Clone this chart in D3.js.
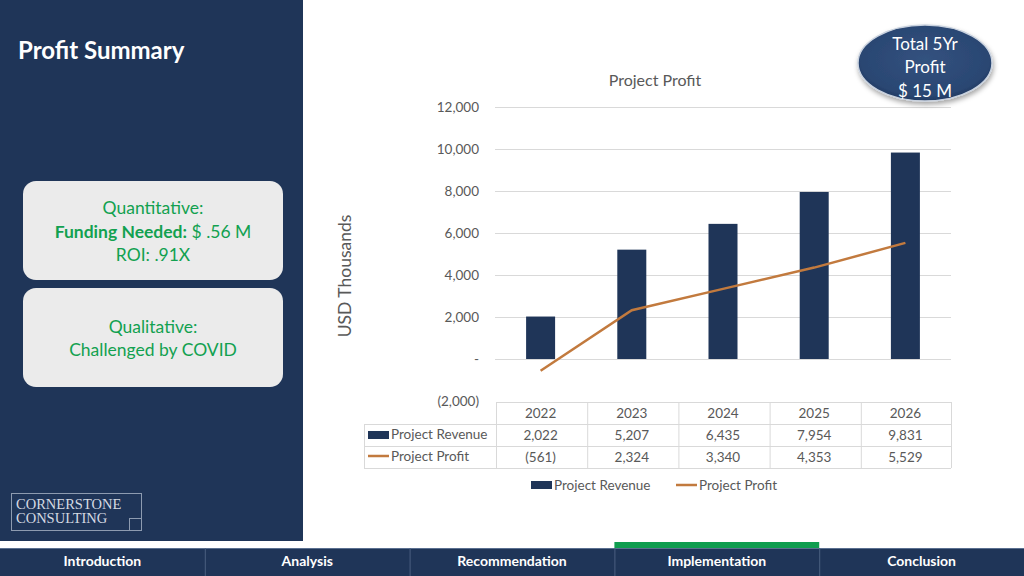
<!DOCTYPE html>
<html><head><meta charset="utf-8">
<script src="https://cdn.jsdelivr.net/npm/d3@7"></script>
<style>html,body{margin:0;padding:0;background:#fff;overflow:hidden}</style>
</head><body>
<svg id="c" width="1024" height="576"></svg>
<script>
const years = ["2022","2023","2024","2025","2026"];
const revenue = [2022, 5207, 6435, 7954, 9831];
const profit = [-561, 2324, 3340, 4353, 5529];
const yTicks = [-2000, 0, 2000, 4000, 6000, 8000, 10000, 12000];
const seriesNames = ["Project Revenue", "Project Profit"];
const navItems = ["Introduction", "Analysis", "Recommendation", "Implementation", "Conclusion"];
const activeNav = "Implementation";

const NAVY = "#1f3558", ORANGE = "#c27a3e", GREEN = "#12a150", GRAY = "#595959";
const FONT = "Lato, 'Open Sans', sans-serif";
const svg = d3.select("#c");

// left panel
svg.append("rect").attr("x",0).attr("y",0).attr("width",303).attr("height",541).attr("fill",NAVY);
svg.append("text").attr("x",18).attr("y",59).text("Profit Summary")
  .attr("fill","#fff").attr("font-family",FONT).attr("font-weight","bold").attr("font-size",24);

// boxes
const boxes = [
  {y:181, lines:[[{t:"Quantitative:"}],[{t:"Funding Needed:",b:true},{t:" $ .56 M"}],[{t:"ROI: .91X"}]], ys:[214,238,261]},
  {y:288, lines:[[{t:"Qualitative:"}],[{t:"Challenged by COVID"}]], ys:[333,356]}
];
boxes.forEach(b=>{
  svg.append("rect").attr("x",23).attr("y",b.y).attr("width",260).attr("height",99).attr("rx",13)
    .attr("fill","#ebebeb");
  b.lines.forEach((ln,i)=>{
    const t = svg.append("text").attr("x",153).attr("y",b.ys[i]).attr("text-anchor","middle")
      .attr("fill",GREEN).attr("font-family",FONT).attr("font-size",17.5);
    ln.forEach(s=>t.append("tspan").text(s.t).attr("font-weight",s.b?"bold":"normal"));
  });
});

// logo
svg.append("rect").attr("x",11.5).attr("y",493.5).attr("width",130).attr("height",37)
  .attr("fill","none").attr("stroke","#8d9bb0").attr("stroke-width",1);
svg.append("rect").attr("x",129.5).attr("y",518.5).attr("width",12).attr("height",12)
  .attr("fill","none").attr("stroke","#8d9bb0").attr("stroke-width",1);
["CORNERSTONE","CONSULTING"].forEach((t,i)=>svg.append("text").attr("x",16).attr("y",509+i*14)
  .text(t).attr("fill","#d5dae3").attr("font-family","'Liberation Serif', serif").attr("font-size",14.5));

// nav bar
const navX = d3.scaleBand().domain(navItems).range([0,1024]);
svg.append("rect").attr("x",0).attr("y",548).attr("width",1024).attr("height",28).attr("fill",NAVY);
svg.append("line").attr("x1",0).attr("x2",1024).attr("y1",548.5).attr("y2",548.5).attr("stroke","#5a6f90");
navItems.forEach((n,i)=>{
  if(i>0) svg.append("line").attr("x1",navX(n)+0.5).attr("x2",navX(n)+0.5).attr("y1",548).attr("y2",576)
    .attr("stroke","#4a5f80");
  if(n===activeNav) svg.append("rect").attr("x",navX(n)).attr("y",542).attr("width",navX.bandwidth()).attr("height",6).attr("fill","#0f9d4f");
  svg.append("text").attr("x",navX(n)+navX.bandwidth()/2).attr("y",566).attr("text-anchor","middle")
    .text(n).attr("fill","#fff").attr("font-family",FONT).attr("font-weight","bold").attr("font-size",14);
});

// chart
const x = d3.scaleBand().domain(years).range([495,951]);
const y = d3.scaleLinear().domain([-2000,12000]).range([401,107]);
const fmt = v => v===0 ? "-" : v<0 ? "("+d3.format(",")(-v)+")" : d3.format(",")(v);

const yAxis = svg.append("g").attr("transform","translate(495,0)")
  .call(d3.axisLeft(y).tickValues(yTicks).tickFormat(fmt).tickSize(0).tickPadding(16));
yAxis.select(".domain").remove();
yAxis.selectAll("text").attr("fill",GRAY).attr("font-family",FONT).attr("font-size",13.5);

const grid = svg.append("g").attr("transform","translate(495,0)")
  .call(d3.axisLeft(y).tickValues(yTicks.filter(v=>v>-2000)).tickFormat("").tickSize(-456));
grid.select(".domain").remove();
grid.selectAll("line").attr("stroke","#d9d9d9");

svg.append("g").selectAll("rect").data(years).join("rect")
  .attr("x",d=>x(d)+x.bandwidth()/2-14.5).attr("width",29)
  .attr("y",(d,i)=>y(revenue[i])).attr("height",(d,i)=>y(0)-y(revenue[i])).attr("fill",NAVY);

const line = d3.line().x((d,i)=>x(years[i])+x.bandwidth()/2).y(d=>y(d));
svg.append("path").attr("d",line(profit)).attr("fill","none").attr("stroke",ORANGE).attr("stroke-width",2.5);

svg.append("text").attr("x",655).attr("y",86).attr("text-anchor","middle").text("Project Profit")
  .attr("fill",GRAY).attr("font-family",FONT).attr("font-size",16);
svg.append("text").attr("transform","translate(351,276) rotate(-90)").attr("text-anchor","middle")
  .text("USD Thousands").attr("fill",GRAY).attr("font-family",FONT).attr("font-size",17.5);

// data table
const tb = svg.append("g");
const rowY = [402,424,446,468];
const tStroke = "#d9d9d9";
tb.append("line").attr("x1",497).attr("x2",951).attr("y1",rowY[0]+.5).attr("y2",rowY[0]+.5).attr("stroke",tStroke);
[1,2,3].forEach(i=>tb.append("line").attr("x1",364).attr("x2",951).attr("y1",rowY[i]+.5).attr("y2",rowY[i]+.5).attr("stroke",tStroke));
tb.append("line").attr("x1",364.5).attr("x2",364.5).attr("y1",rowY[1]).attr("y2",rowY[3]).attr("stroke",tStroke);
years.forEach(yr=>tb.append("line").attr("x1",x(yr)+1.5).attr("x2",x(yr)+1.5).attr("y1",rowY[0]).attr("y2",rowY[3]).attr("stroke",tStroke));
tb.append("line").attr("x1",951.5).attr("x2",951.5).attr("y1",rowY[0]).attr("y2",rowY[3]).attr("stroke",tStroke);
const cellText = (tx,ty,t,anchor)=>tb.append("text").attr("x",tx).attr("y",ty).attr("text-anchor",anchor||"middle")
  .text(t).attr("fill",GRAY).attr("font-family",FONT).attr("font-size",13.5);
years.forEach((yr,i)=>{
  const cx = x(yr)+x.bandwidth()/2;
  cellText(cx,418,yr);
  cellText(cx,440,fmt(revenue[i]));
  cellText(cx,462,fmt(profit[i]));
});
tb.append("rect").attr("x",368).attr("y",431).attr("width",21).attr("height",8).attr("fill",NAVY);
cellText(391,439,seriesNames[0],"start");
tb.append("line").attr("x1",368).attr("x2",389).attr("y1",456).attr("y2",456).attr("stroke",ORANGE).attr("stroke-width",2.5);
cellText(391,461,seriesNames[1],"start");

// bottom legend
svg.append("rect").attr("x",531).attr("y",481).attr("width",21).attr("height",8).attr("fill",NAVY);
cellText(554,490,seriesNames[0],"start");
svg.append("line").attr("x1",676).attr("x2",697).attr("y1",485).attr("y2",485).attr("stroke",ORANGE).attr("stroke-width",2.5);
cellText(699,490,seriesNames[1],"start");

// ellipse badge
const defs = svg.append("defs");
const rg = defs.append("radialGradient").attr("id","eg").attr("cx","50%").attr("cy","45%").attr("r","60%");
rg.append("stop").attr("offset","0%").attr("stop-color","#33527f");
rg.append("stop").attr("offset","80%").attr("stop-color","#2a4672");
rg.append("stop").attr("offset","100%").attr("stop-color","#1b3154");
const f = defs.append("filter").attr("id","sh").attr("x","-20%").attr("y","-20%").attr("width","140%").attr("height","150%");
f.append("feDropShadow").attr("dx",1).attr("dy",3).attr("stdDeviation",2.5).attr("flood-color","#000").attr("flood-opacity",0.35);
svg.append("ellipse").attr("cx",925).attr("cy",63).attr("rx",67).attr("ry",38)
  .attr("fill","url(#eg)").attr("stroke","#c9d2df").attr("stroke-width",1.5).attr("filter","url(#sh)");
[["Total 5Yr",50],["Profit",73],["$ 15 M",97]].forEach(([t,ty])=>svg.append("text").attr("x",925).attr("y",ty)
  .attr("text-anchor","middle").text(t).attr("fill","#fff").attr("font-family",FONT).attr("font-size",17));
</script>
</body></html>
